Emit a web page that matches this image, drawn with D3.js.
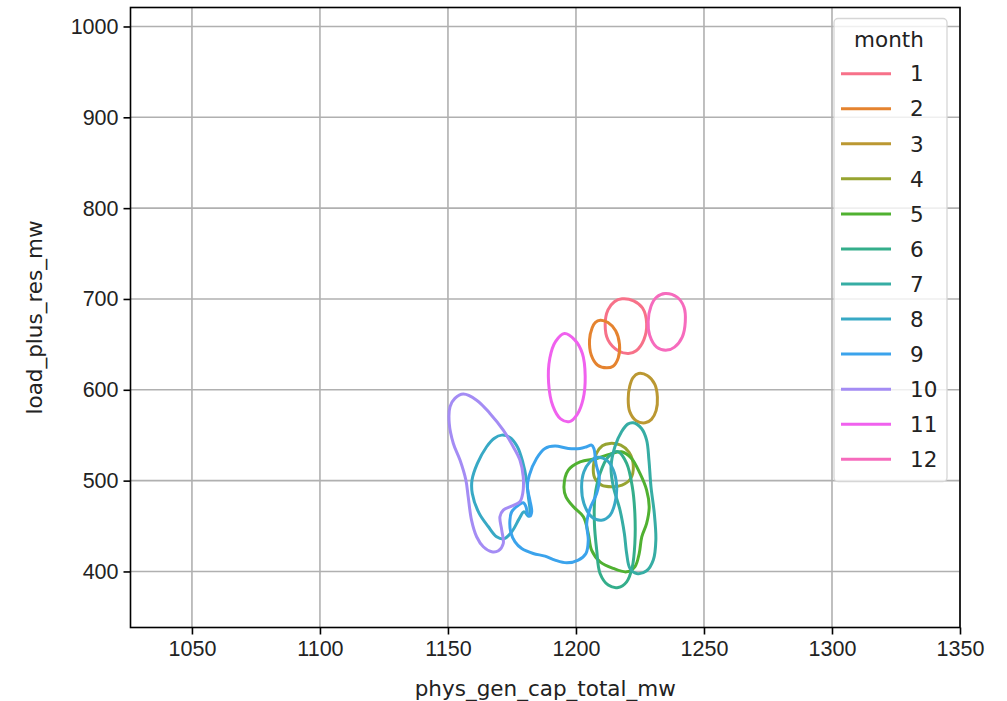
<!DOCTYPE html>
<html>
<head>
<meta charset="utf-8">
<script src="https://cdn.jsdelivr.net/npm/d3@7"></script>
<style>
    body { margin: 0; background: #fff; }
    svg { font-family: "DejaVu Sans", sans-serif; }
</style>
</head>
<body>
<div id="chart"></div>
<script>
// month categories and the husl palette seaborn gives to 12 levels
const months = [1, 2, 3, 4, 5, 6, 7, 8, 9, 10, 11, 12];
const colours = ['#f77189', '#e5832f', '#bb9832', '#97a431', '#50b131', '#34ae8b',
    '#36ada4', '#38a9c5', '#3ba3ec', '#a48cf4', '#f061ee', '#f66bbd'];

const xTicks = [1050, 1100, 1150, 1200, 1250, 1300, 1350];
const yTicks = [400, 500, 600, 700, 800, 900, 1000];

// kde contour rings: [phys_gen_cap_total_mw, load_plus_res_mw]
const ring1 = [[1218, 700.2], [1222.5, 698], [1226, 690], [1227.6, 673], [1226.5, 655], [1223.5, 643],
    [1220.5, 640], [1216.5, 643], [1212.5, 655], [1211.4, 672], [1212.5, 688], [1215, 697]];
const ring2 = [[1209.5, 676.5], [1212.5, 674], [1215.5, 665], [1217, 650], [1216.5, 635], [1214.5, 626],
    [1212, 624.2], [1208.5, 627], [1206, 638], [1205.3, 655], [1206.3, 668], [1207.5, 674]];
const ring3 = [[1224.4, 618], [1228, 615.5], [1230.8, 606], [1231.8, 592], [1231.3, 577], [1229.5, 567.5],
    [1227, 563.7], [1223.5, 566], [1221, 576], [1220.4, 590], [1221, 604], [1222.3, 613.5]];
const ring4 = [[1213.3, 541], [1217.5, 539], [1220.8, 531], [1222.4, 516], [1221.3, 502], [1218, 495],
    [1214, 493.2], [1210, 495], [1207.3, 503], [1206.8, 516], [1208, 530], [1210.3, 538.5]];
const ring5 = [[1195.3, 493.2], [1197, 511.6], [1201.6, 520.7], [1208.1, 524.4], [1213.3, 529.2],
    [1217.8, 531.8], [1221.7, 524.4], [1225, 507.9], [1227.6, 489.6], [1228.6, 471.2], [1227.6, 452.9],
    [1225.7, 438.2], [1224.7, 419.8], [1223, 405.1], [1219.8, 399.6], [1214.6, 403.3], [1209.4, 410.6],
    [1206.1, 423.5], [1204.8, 441.8], [1202.9, 460.2], [1199, 471.2], [1196.1, 482.2]];
const ring6 = [[1216.5, 531.8], [1219.8, 518.9], [1222, 493.2], [1223, 463.9], [1223, 430.8], [1222, 405.1],
    [1219.8, 388.6], [1216.5, 382.4], [1212.6, 385], [1209.4, 397.8], [1208.1, 423.5], [1207.2, 452.9],
    [1207.4, 482.2], [1209.4, 507.9], [1212.6, 526.2]];
const ring7 = [[1222.4, 563.7], [1225.6, 557.4], [1227.6, 544.6], [1228.5, 522.6], [1229.3, 493.2],
    [1230.6, 463.9], [1231.2, 434.5], [1230.2, 412.5], [1227.6, 400.7], [1223.7, 397.8], [1221.1, 403.3],
    [1219.8, 419.8], [1218.9, 441.8], [1217.2, 467.5], [1214.6, 493.2], [1213.7, 515.2], [1215.2, 537.3],
    [1217.8, 553.8], [1220.2, 562.2]];
const ring8a = [[1171, 550.1], [1174.2, 547.5], [1177.1, 537.3], [1179.2, 520.7], [1180.7, 500.6],
    [1181.4, 482.2], [1182, 467.5], [1181.5, 460.9], [1179.7, 465.7], [1177.9, 458.4], [1174.9, 443.6],
    [1171.9, 435.9], [1169, 438.2], [1165.8, 449.2], [1162.2, 463.9], [1159.5, 485.9], [1159.4, 500.6],
    [1161.5, 518.9], [1165.1, 537.3], [1168, 546.4]];
const ring8b = [[1208.1, 525.5], [1212, 522.6], [1214.6, 511.6], [1215.9, 493.2], [1215.2, 474.9],
    [1213.3, 462], [1210, 456.5], [1206.1, 460.2], [1203.1, 474.9], [1202.2, 493.2], [1203.1, 509.7],
    [1205.5, 520.7]];
const ring9 = [[1204.2, 537.3], [1206.1, 539.1], [1207, 535.4], [1207.8, 518.9], [1209.1, 502.4],
    [1208.1, 485.9], [1205.5, 469.4], [1204.2, 452.8], [1204.8, 434.5], [1203.9, 419.8], [1200.9, 412.5],
    [1196.4, 409.5], [1191.8, 412.5], [1187.9, 416.9], [1183.3, 419.8], [1178.8, 425.3], [1176.2, 432.6],
    [1174.5, 443.6], [1174.2, 456.5], [1174.9, 465.7], [1177.5, 473], [1179.4, 475.6], [1180.5, 471.2],
    [1181, 463.9], [1182, 460.9], [1182.7, 465.7], [1182, 478.5], [1181, 493.2], [1181.8, 506.1],
    [1184.6, 524.4], [1187.9, 535.4], [1191.8, 538], [1197, 535.4], [1201.6, 535.4]];
const ring10 = [[1156, 595.3], [1161.2, 588.6], [1166.4, 574], [1171.6, 555.6], [1175.5, 537.3],
    [1178.1, 522.6], [1179.4, 504.3], [1179.2, 485.9], [1178.1, 476.7], [1174.9, 472], [1171.6, 467.5],
    [1170.3, 460.2], [1171, 445.5], [1171.6, 430.8], [1169.7, 422.8], [1167.1, 421.7], [1163.8, 427.2],
    [1161.2, 438.2], [1159.2, 456.5], [1157.9, 482.2], [1157, 500.6], [1154.7, 522.6], [1152.1, 540.9],
    [1150.5, 563], [1150.8, 581.3], [1152.7, 590.5]];
const ring11 = [[1195.5, 662], [1199.5, 655], [1202.5, 640], [1203.6, 615], [1202.8, 590], [1200.5, 573],
    [1197.5, 565], [1194, 568], [1191, 582], [1189.3, 608], [1189.8, 635], [1192, 653]];
const ring12 = [[1234.8, 706], [1239.5, 702], [1242.2, 691], [1242.7, 675], [1241.5, 658], [1238.5, 647],
    [1235.5, 643.7], [1231.5, 647], [1228.8, 660], [1228.2, 675], [1229.3, 692], [1231.5, 702]];

const rings = [[ring1], [ring2], [ring3], [ring4], [ring5], [ring6], [ring7], [ring8a, ring8b],
    [ring9], [ring10], [ring11], [ring12]];

const width = 1007, height = 701;
const plotLeft = 130.5, plotRight = 960, plotTop = 7.5, plotBottom = 627.5;
const fontSize = '21.5px';

const svg = d3.select('#chart').append('svg')
    .attr('width', width)
    .attr('height', height);

const x = d3.scaleLinear().domain([1026, 1350]).range([plotLeft, plotRight]);
const y = d3.scaleLinear().domain([338.3, 1020.9]).range([plotBottom, plotTop]);

// grid
svg.append('g').selectAll('line').data(xTicks).join('line')
    .attr('x1', d => x(d)).attr('x2', d => x(d))
    .attr('y1', plotTop).attr('y2', plotBottom)
    .attr('stroke', '#b0b0b0').attr('stroke-width', 1.6);
svg.append('g').selectAll('line').data(yTicks).join('line')
    .attr('x1', plotLeft).attr('x2', plotRight)
    .attr('y1', d => y(d)).attr('y2', d => y(d))
    .attr('stroke', '#b0b0b0').attr('stroke-width', 1.6);

// contours
const line = d3.line()
    .x(d => x(d[0]))
    .y(d => y(d[1]))
    .curve(d3.curveCatmullRomClosed.alpha(0.5));

months.forEach((m, i) => {
    rings[i].forEach(r => {
        svg.append('path')
            .attr('d', line(r))
            .attr('fill', 'none')
            .attr('stroke', colours[i])
            .attr('stroke-width', 3);
    });
});

// axes
const xAxis = svg.append('g')
    .attr('transform', `translate(0,${plotBottom})`)
    .call(d3.axisBottom(x).tickValues(xTicks).tickSize(7).tickPadding(6).tickFormat(d3.format('d')));
const yAxis = svg.append('g')
    .attr('transform', `translate(${plotLeft},0)`)
    .call(d3.axisLeft(y).tickValues(yTicks).tickSize(7).tickPadding(5).tickFormat(d3.format('d')));
[xAxis, yAxis].forEach(a => {
    a.select('.domain').remove();
    a.selectAll('.tick line').attr('stroke', '#000').attr('stroke-width', 1.6);
    a.selectAll('.tick text').attr('fill', '#222').style('font-size', fontSize);
});

svg.append('rect')
    .attr('x', plotLeft).attr('y', plotTop)
    .attr('width', plotRight - plotLeft).attr('height', plotBottom - plotTop)
    .attr('fill', 'none').attr('stroke', '#000').attr('stroke-width', 1.6);

svg.append('text')
    .attr('x', (plotLeft + plotRight) / 2).attr('y', 696)
    .attr('text-anchor', 'middle')
    .attr('fill', '#222')
    .style('font-size', fontSize)
    .text('phys_gen_cap_total_mw');
svg.append('text')
    .attr('transform', `translate(42,${(plotTop + plotBottom) / 2}) rotate(-90)`)
    .attr('text-anchor', 'middle')
    .attr('fill', '#222')
    .style('font-size', fontSize)
    .text('load_plus_res_mw');

// legend
const legend = svg.append('g');
legend.append('rect')
    .attr('x', 834).attr('y', 18.5)
    .attr('width', 113).attr('height', 463)
    .attr('rx', 4)
    .attr('fill', '#fff').attr('fill-opacity', 0.8)
    .attr('stroke', '#d6d6d6').attr('stroke-width', 1.3);
legend.append('text')
    .attr('x', 889).attr('y', 47)
    .attr('text-anchor', 'middle')
    .attr('fill', '#222')
    .style('font-size', fontSize)
    .text('month');
months.forEach((m, i) => {
    const ly = 73.7 + i * 35.05;
    legend.append('line')
        .attr('x1', 841).attr('x2', 891)
        .attr('y1', ly).attr('y2', ly)
        .attr('stroke', colours[i]).attr('stroke-width', 3);
    legend.append('text')
        .attr('x', 910).attr('y', ly)
        .attr('dy', '0.36em')
        .attr('fill', '#222')
        .style('font-size', fontSize)
        .text(m);
});
</script>
</body>
</html>
